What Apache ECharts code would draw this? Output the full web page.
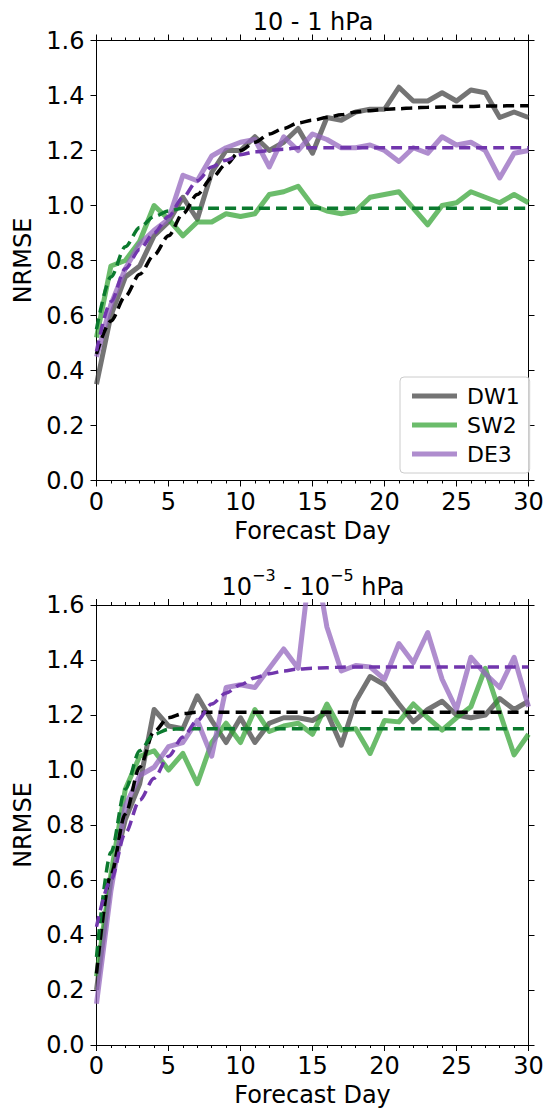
<!DOCTYPE html>
<html>
<head>
<meta charset="utf-8">
<title>NRMSE</title>
<script src="https://cdn.jsdelivr.net/npm/echarts@6/dist/echarts.min.js"></script>
<style>
  html, body { margin: 0; padding: 0; background: #fff; }
  #chart { width: 543px; height: 1111px; }
</style>
</head>
<body>
<div id="chart"></div>
<script>
const days = [0, 1, 2, 3, 4, 5, 6, 7, 8, 9, 10, 11, 12, 13, 14, 15, 16, 17, 18, 19, 20, 21, 22, 23, 24, 25, 26, 27, 28, 29, 30]
const yTicks = [0, 0.2, 0.4, 0.6, 0.8, 1.0, 1.2, 1.4, 1.6]

// 10 - 1 hPa
const topDW1 = [0.35, 0.60, 0.74, 0.78, 0.89, 0.94, 1.03, 0.95, 1.12, 1.20, 1.20, 1.25, 1.20, 1.23, 1.28, 1.19, 1.32, 1.31, 1.34, 1.35, 1.35, 1.43, 1.38, 1.38, 1.41, 1.38, 1.42, 1.41, 1.32, 1.34, 1.32]
const topSW2 = [0.52, 0.78, 0.80, 0.87, 1.00, 0.95, 0.89, 0.94, 0.94, 0.97, 0.96, 0.97, 1.04, 1.05, 1.07, 1.00, 0.98, 0.97, 0.98, 1.03, 1.04, 1.05, 0.99, 0.93, 1.00, 1.01, 1.05, 1.03, 1.01, 1.04, 1.01]
const topDE3 = [0.45, 0.64, 0.77, 0.86, 0.91, 0.95, 1.11, 1.09, 1.18, 1.21, 1.23, 1.24, 1.14, 1.25, 1.20, 1.26, 1.24, 1.21, 1.21, 1.22, 1.20, 1.16, 1.21, 1.19, 1.25, 1.22, 1.23, 1.20, 1.10, 1.19, 1.20]
const topFitDW1 = [0.46, 0.58, 0.67, 0.75, 0.82, 0.89, 0.97, 1.04, 1.10, 1.15, 1.20, 1.23, 1.26, 1.28, 1.30, 1.31, 1.32, 1.33, 1.34, 1.345, 1.35, 1.352, 1.355, 1.357, 1.358, 1.36, 1.36, 1.362, 1.362, 1.363, 1.363]
const topFitSW2 = [0.55, 0.74, 0.85, 0.92, 0.96, 0.98, 0.99, 0.99, 0.99, 0.99, 0.99, 0.99, 0.99, 0.99, 0.99, 0.99, 0.99, 0.99, 0.99, 0.99, 0.99, 0.99, 0.99, 0.99, 0.99, 0.99, 0.99, 0.99, 0.99, 0.99, 0.99]
const topFitDE3 = [0.47, 0.65, 0.77, 0.84, 0.90, 0.96, 1.03, 1.09, 1.14, 1.165, 1.185, 1.195, 1.20, 1.205, 1.21, 1.21, 1.21, 1.21, 1.21, 1.21, 1.21, 1.21, 1.21, 1.21, 1.21, 1.21, 1.21, 1.21, 1.21, 1.21, 1.21]

// 10^-3 - 10^-5 hPa
const botDW1 = [0.20, 0.60, 0.82, 0.95, 1.22, 1.16, 1.15, 1.27, 1.18, 1.10, 1.19, 1.10, 1.17, 1.19, 1.19, 1.18, 1.21, 1.09, 1.25, 1.34, 1.31, 1.24, 1.175, 1.22, 1.25, 1.20, 1.19, 1.20, 1.26, 1.22, 1.25]
const botSW2 = [0.25, 0.62, 0.93, 1.05, 1.07, 1.00, 1.06, 0.95, 1.10, 1.17, 1.10, 1.22, 1.14, 1.16, 1.17, 1.13, 1.24, 1.145, 1.15, 1.06, 1.18, 1.175, 1.24, 1.19, 1.145, 1.19, 1.23, 1.37, 1.21, 1.055, 1.13]
const botDE3 = [0.15, 0.56, 0.87, 0.98, 1.01, 1.085, 1.10, 1.18, 1.05, 1.30, 1.31, 1.30, 1.37, 1.44, 1.37, 1.82, 1.52, 1.36, 1.38, 1.375, 1.33, 1.46, 1.39, 1.50, 1.33, 1.22, 1.41, 1.35, 1.30, 1.41, 1.23]
const botFitDW1 = [0.26, 0.62, 0.84, 1.01, 1.14, 1.19, 1.205, 1.21, 1.21, 1.21, 1.21, 1.21, 1.21, 1.21, 1.21, 1.21, 1.21, 1.21, 1.21, 1.21, 1.21, 1.21, 1.21, 1.21, 1.21, 1.21, 1.21, 1.21, 1.21, 1.21, 1.21]
const botFitSW2 = [0.32, 0.70, 0.93, 1.07, 1.13, 1.148, 1.15, 1.15, 1.15, 1.15, 1.15, 1.15, 1.15, 1.15, 1.15, 1.15, 1.15, 1.15, 1.15, 1.15, 1.15, 1.15, 1.15, 1.15, 1.15, 1.15, 1.15, 1.15, 1.15, 1.15, 1.15]
const botFitDE3 = [0.43, 0.60, 0.77, 0.89, 0.97, 1.05, 1.12, 1.18, 1.24, 1.28, 1.31, 1.335, 1.35, 1.36, 1.367, 1.37, 1.372, 1.374, 1.375, 1.375, 1.375, 1.375, 1.375, 1.375, 1.375, 1.375, 1.375, 1.375, 1.375, 1.375, 1.375]

const font = 'DejaVu Sans'
const fontSize = 24
const solidColor = {
  DW1: 'rgba(70, 70, 70, 0.75)',
  SW2: 'rgba(44, 160, 44, 0.7)',
  DE3: 'rgba(148, 103, 189, 0.75)'
}
const dashColor = {
  DW1: '#000000',
  SW2: '#0b7a2e',
  DE3: '#7136ad'
}

const panels = [
  { top: 40.5, data: { DW1: topDW1, SW2: topSW2, DE3: topDE3 }, fit: { DW1: topFitDW1, SW2: topFitSW2, DE3: topFitDE3 } },
  { top: 605, data: { DW1: botDW1, SW2: botSW2, DE3: botDE3 }, fit: { DW1: botFitDW1, SW2: botFitSW2, DE3: botFitDE3 } }
]

function pairs(arr) {
  return days.map((d, i) => [d, arr[i]])
}

function xAxisFor(gridIndex, position) {
  const bottom = position === 'bottom'
  return {
    type: 'value',
    gridIndex: gridIndex,
    position: position,
    min: 0,
    max: 30,
    interval: 5,
    name: bottom ? 'Forecast Day' : '',
    nameLocation: 'middle',
    nameGap: 38,
    nameTextStyle: { fontFamily: font, fontSize: fontSize, color: '#000' },
    axisLine: { show: true, onZero: false, lineStyle: { color: '#000', width: 1 } },
    axisTick: { show: true, inside: false, length: 6, lineStyle: { color: '#000', width: 1 } },
    minorTick: { show: true, splitNumber: 5, length: 3, lineStyle: { color: '#000', width: 1 } },
    axisLabel: { show: bottom, margin: 9, fontFamily: font, fontSize: fontSize, color: '#000' },
    splitLine: { show: false },
    minorSplitLine: { show: false }
  }
}

function yAxisFor(gridIndex, position) {
  const left = position === 'left'
  return {
    type: 'value',
    gridIndex: gridIndex,
    position: position,
    min: 0,
    max: 1.6,
    interval: 0.2,
    name: left ? 'NRMSE' : '',
    nameLocation: 'middle',
    nameRotate: 90,
    nameGap: 56,
    nameTextStyle: { fontFamily: font, fontSize: fontSize, color: '#000' },
    axisLine: { show: true, onZero: false, lineStyle: { color: '#000', width: 1 } },
    axisTick: { show: true, inside: false, length: 6, lineStyle: { color: '#000', width: 1 } },
    axisLabel: {
      show: left,
      margin: 12,
      fontFamily: font,
      fontSize: fontSize,
      color: '#000',
      formatter: (v) => {
        const t = yTicks.find((y) => Math.abs(y - v) < 1e-6)
        return t === undefined ? '' : t.toFixed(1)
      }
    },
    splitLine: { show: false }
  }
}

function initChart() {
  const myChart = echarts.init(document.getElementById('chart'), null, { renderer: 'svg' })
  const grid = []
  const xAxis = []
  const yAxis = []
  const series = []

  panels.forEach((p, gi) => {
    grid.push({ left: 96.5, top: p.top, width: 432, height: 440, containLabel: false, outerBoundsMode: 'none' })
    xAxis.push(xAxisFor(gi, 'bottom'), xAxisFor(gi, 'top'))
    yAxis.push(yAxisFor(gi, 'left'), yAxisFor(gi, 'right'))
    const xi = gi * 2
    const yi = gi * 2
    ;['DW1', 'SW2', 'DE3'].forEach((k) => {
      series.push({
        name: k,
        type: 'line',
        xAxisIndex: xi,
        yAxisIndex: yi,
        data: pairs(p.data[k]),
        symbol: 'none',
        clip: true,
        z: 2,
        lineStyle: { color: solidColor[k], width: 5, join: 'round' },
        itemStyle: { color: solidColor[k] }
      })
    })
    ;['DW1', 'SW2', 'DE3'].forEach((k) => {
      series.push({
        name: k + ' fit',
        type: 'line',
        xAxisIndex: xi,
        yAxisIndex: yi,
        data: pairs(p.fit[k]),
        symbol: 'none',
        smooth: 0.3,
        smoothMonotone: 'x',
        clip: true,
        z: 3,
        lineStyle: { color: dashColor[k], width: 3.5, type: [11, 6] },
        itemStyle: { color: dashColor[k] }
      })
    })
  })

  const option = {
    backgroundColor: '#fff',
    animation: false,
    grid: grid,
    xAxis: xAxis,
    yAxis: yAxis,
    legend: {
      orient: 'vertical',
      left: 400,
      top: 377,
      padding: [8, 10, 8, 12],
      itemGap: 7,
      itemWidth: 45,
      itemHeight: 5,
      borderColor: '#cccccc',
      borderWidth: 1,
      borderRadius: 4,
      backgroundColor: 'rgba(255,255,255,0.8)',
      textStyle: { fontFamily: font, fontSize: 22, color: '#000', padding: [0, 0, 0, 5] },
      data: [
        { name: 'DW1', icon: 'rect' },
        { name: 'SW2', icon: 'rect' },
        { name: 'DE3', icon: 'rect' }
      ]
    },
    graphic: [
      {
        type: 'text',
        x: 313,
        y: 22,
        style: {
          text: '10 - 1 hPa',
          font: '24px "DejaVu Sans"',
          fill: '#000',
          align: 'center',
          verticalAlign: 'middle'
        }
      },
      {
        type: 'text',
        x: 313,
        y: 583,
        style: {
          text: '{n|10}{s|\u22123}{n| - 10}{s|\u22125}{n| hPa}',
          fill: '#000',
          align: 'center',
          verticalAlign: 'middle',
          rich: {
            n: { fontFamily: font, fontSize: fontSize, lineHeight: 32, verticalAlign: 'bottom', fill: '#000' },
            s: { fontFamily: font, fontSize: 16, lineHeight: 16, verticalAlign: 'top', fill: '#000' }
          }
        }
      }
    ],
    series: series
  }

  myChart.setOption(option, true)
}

initChart()
</script>
</body>
</html>
